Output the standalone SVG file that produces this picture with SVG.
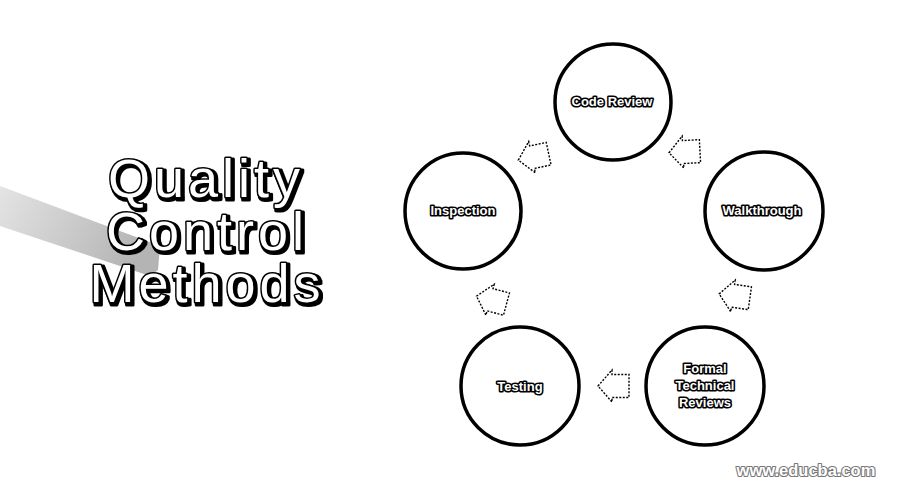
<svg xmlns="http://www.w3.org/2000/svg" width="900" height="500" viewBox="0 0 900 500">
<defs>
<style>
.node circle{fill:#fff;stroke:#000;stroke-width:3.5}
.lbl{font-family:"Liberation Sans",Arial,sans-serif;font-weight:bold;font-size:13px;fill:#fff;stroke:#000;stroke-width:3.2;stroke-linejoin:round;paint-order:stroke;text-anchor:middle}
.title{font-family:"Liberation Sans",Arial,sans-serif;font-size:54px;letter-spacing:4px;fill:#fff;stroke:#000;stroke-width:3;stroke-linejoin:round;paint-order:stroke;text-anchor:middle}
.arr{fill:none;stroke:#000;stroke-width:1.4;stroke-dasharray:2 1.5}
</style>
<filter id="sh" x="-10%" y="-10%" width="130%" height="140%">
<feMorphology in="SourceAlpha" operator="dilate" radius="0.5" result="d"/>
<feOffset in="d" dx="2" dy="2" result="o"/>
<feMerge><feMergeNode in="o"/><feMergeNode in="SourceGraphic"/></feMerge>
</filter>
<linearGradient id="band" x1="0" y1="0" x2="1" y2="0.3">
<stop offset="0" stop-color="#e4e4e4"/>
<stop offset="1" stop-color="#b4b4b4"/>
</linearGradient>
<path id="blk" d="M-15,0 L-1,-16 L-1,-11.5 L16,-11.5 L16,11.5 L-1,11.5 L-1,16 Z"/>
</defs>
<rect width="900" height="500" fill="#fff"/>
<polygon points="0,186 160,246 158,270 150,276 0,226" fill="url(#band)"/>
<g id="title" filter="url(#sh)">
<text class="title" x="206" y="197">Quality</text>
<text class="title" x="207" y="250">Control</text>
<text class="title" x="207" y="302">Methods</text>
</g>
<g id="connectors">
<use href="#blk" class="arr" transform="translate(533,157) rotate(-12)"/>
<use href="#blk" class="arr" transform="translate(684,152) rotate(-3)"/>
<use href="#blk" class="arr" transform="translate(734,296) rotate(8)"/>
<use href="#blk" class="arr" transform="translate(613,386)"/>
<use href="#blk" class="arr" transform="translate(491,300) rotate(15)"/>
</g>
<g id="code-review" class="node">
<circle cx="613" cy="102" r="58"/>
<text class="lbl" x="612" y="106">Code Review</text>
</g>
<g id="walkthrough" class="node">
<circle cx="764" cy="211" r="59"/>
<text class="lbl" x="762" y="215">Walkthrough</text>
</g>
<g id="formal-technical-reviews" class="node">
<circle cx="705" cy="386" r="59"/>
<text class="lbl" x="705" y="373">Formal</text>
<text class="lbl" x="705" y="390">Technical</text>
<text class="lbl" x="705" y="407">Reviews</text>
</g>
<g id="testing" class="node">
<circle cx="520" cy="386" r="59"/>
<text class="lbl" x="520" y="391">Testing</text>
</g>
<g id="inspection" class="node">
<circle cx="463" cy="211" r="58"/>
<text class="lbl" x="463" y="215">Inspection</text>
</g>
<text x="806" y="476" font-family="Liberation Sans,Arial,sans-serif" font-weight="bold" font-size="16.5" fill="#fff" stroke="#777" stroke-width="2.2" paint-order="stroke" stroke-linejoin="round" text-anchor="middle">www.educba.com</text>
</svg>
